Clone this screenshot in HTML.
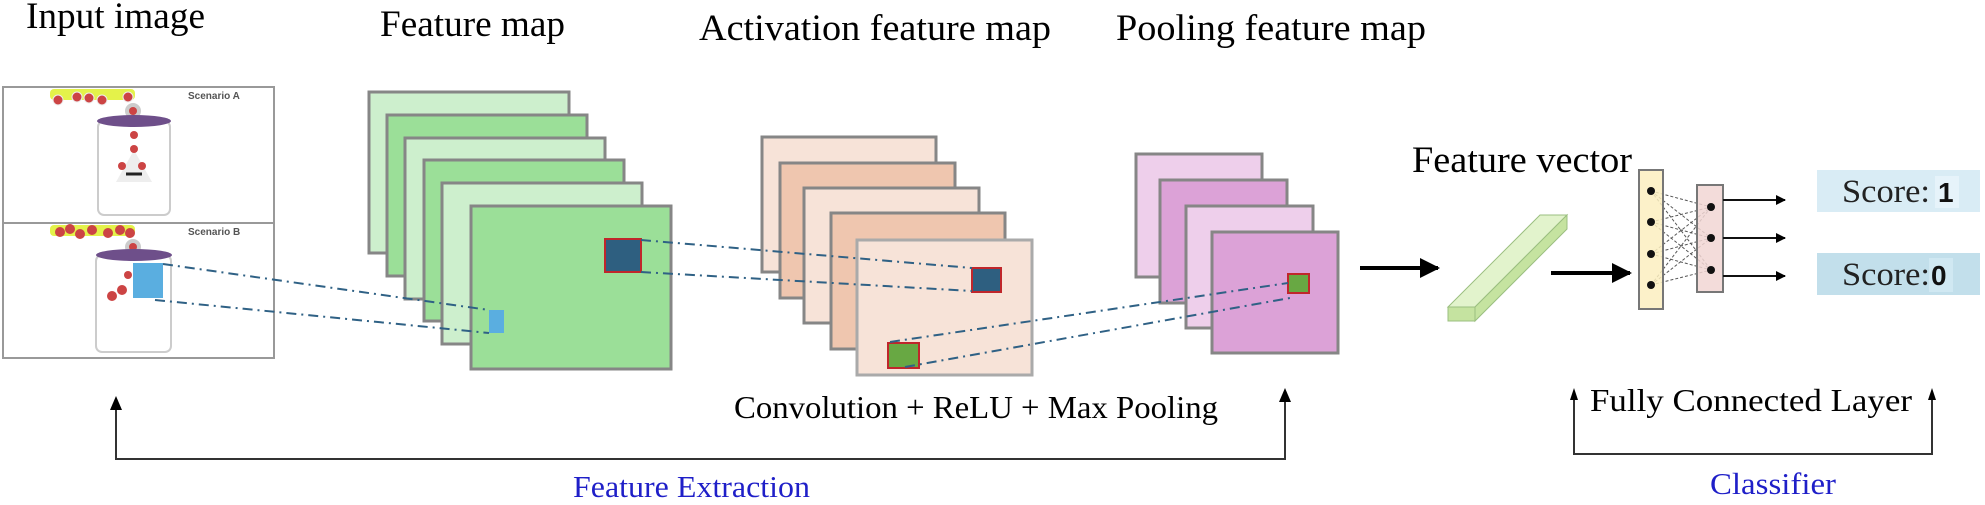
<!DOCTYPE html>
<html><head><meta charset="utf-8"><style>
html,body{margin:0;padding:0;background:#fff;}
svg{display:block;}
text{font-family:"Liberation Serif",serif;}
</style></head><body>
<svg width="1985" height="505" viewBox="0 0 1985 505" xmlns="http://www.w3.org/2000/svg">
<defs>
<marker id="ah" viewBox="0 0 10 10" refX="9" refY="5" markerWidth="5" markerHeight="5" orient="auto"><path d="M0,0 L10,5 L0,10 z" fill="#000"/></marker>
</defs>
<!-- titles -->
<text x="26" y="28" font-size="37" textLength="179" lengthAdjust="spacingAndGlyphs">Input image</text>
<text x="380" y="36" font-size="37" textLength="185" lengthAdjust="spacingAndGlyphs">Feature map</text>
<text x="699" y="40" font-size="37" textLength="352" lengthAdjust="spacingAndGlyphs">Activation feature map</text>
<text x="1116" y="40" font-size="37" textLength="310" lengthAdjust="spacingAndGlyphs">Pooling feature map</text>
<text x="1412" y="172" font-size="37" textLength="220" lengthAdjust="spacingAndGlyphs">Feature vector</text>

<!-- input image -->
<rect x="3" y="87" width="271" height="271" fill="#fff" stroke="#999" stroke-width="2"/>
<line x1="3" y1="223" x2="274" y2="223" stroke="#999" stroke-width="2"/>
<text x="188" y="99" font-size="10" font-weight="bold" fill="#555" style="font-family:'Liberation Sans',sans-serif">Scenario A</text>
<text x="188" y="235" font-size="10" font-weight="bold" fill="#555" style="font-family:'Liberation Sans',sans-serif">Scenario B</text>
<rect x="50" y="89" width="85" height="11" rx="4" fill="#e4f24a"/>
<g fill="#c44" stroke="#eee" stroke-width="1"><circle cx="58" cy="100" r="5"/><circle cx="77" cy="97" r="5"/><circle cx="89" cy="98" r="5"/><circle cx="102" cy="100" r="5"/><circle cx="128" cy="97" r="5"/></g>
<circle cx="133" cy="111" r="8" fill="#ccc"/><circle cx="133" cy="111" r="4" fill="#c44"/>
<rect x="98" y="121" width="72" height="94" rx="6" fill="#fff" stroke="#ccc" stroke-width="2"/>
<ellipse cx="134" cy="121" rx="37" ry="6" fill="#6e4f8a"/>
<polygon points="134,150 116,182 152,182" fill="#eee"/>
<g fill="#c44"><circle cx="134" cy="135" r="4"/><circle cx="134" cy="149" r="4"/><circle cx="122" cy="166" r="4"/><circle cx="142" cy="166" r="4"/></g>
<path d="M126,174 L142,174" stroke="#222" stroke-width="3"/>
<rect x="50" y="225" width="85" height="11" rx="4" fill="#e4f24a"/>
<g fill="#c44"><circle cx="60" cy="232" r="5"/><circle cx="70" cy="229" r="5"/><circle cx="80" cy="234" r="5"/><circle cx="92" cy="230" r="5"/><circle cx="108" cy="233" r="5"/><circle cx="120" cy="230" r="5"/><circle cx="130" cy="233" r="5"/></g>
<circle cx="133" cy="247" r="8" fill="#ccc"/><circle cx="133" cy="247" r="4" fill="#c44"/>
<rect x="96" y="255" width="75" height="97" rx="6" fill="#fff" stroke="#ccc" stroke-width="2"/>
<ellipse cx="134" cy="255" rx="38" ry="6" fill="#6e4f8a"/>
<g fill="#c44"><circle cx="128" cy="275" r="4"/><circle cx="122" cy="290" r="5"/><circle cx="112" cy="296" r="5"/></g>
<rect x="133" y="263" width="30" height="35" fill="#5aaee0"/>

<!-- green stack -->
<g stroke="#868686" stroke-width="3">
<rect x="369" y="92" width="200" height="161" fill="#cdefcd"/>
<rect x="387" y="115" width="200" height="161" fill="#9bdf98"/>
<rect x="405" y="138" width="200" height="161" fill="#cdefcd"/>
<rect x="424" y="160" width="200" height="161" fill="#9bdf98"/>
<rect x="442" y="183" width="200" height="161" fill="#cdefcd"/>
<rect x="471" y="206" width="200" height="163" fill="#9bdf98"/>
</g>
<rect x="605" y="239" width="36" height="33" fill="#2e5f80" stroke="#c0262b" stroke-width="2"/>
<rect x="489" y="310" width="15" height="23" fill="#5aaee0"/>

<!-- orange stack -->
<g stroke="#868686" stroke-width="3">
<rect x="762" y="137" width="174" height="135" fill="#f7e3d8"/>
<rect x="780" y="163" width="175" height="135" fill="#efc6af"/>
<rect x="804" y="188" width="175" height="135" fill="#f7e3d8"/>
<rect x="831" y="213" width="174" height="136" fill="#efc6af"/>
</g>
<rect x="857" y="240" width="175" height="135" fill="#f7e3d8" stroke="#aaa" stroke-width="3"/>
<rect x="972" y="268" width="29" height="24" fill="#2e5f80" stroke="#c0262b" stroke-width="2"/>
<rect x="888" y="343" width="31" height="25" fill="#68a843" stroke="#c0262b" stroke-width="2"/>

<!-- pink stack -->
<g stroke="#868686" stroke-width="3">
<rect x="1136" y="154" width="126" height="123" fill="#eecfeb"/>
<rect x="1160" y="180" width="127" height="123" fill="#dca2d7"/>
<rect x="1186" y="206" width="127" height="122" fill="#eecfeb"/>
<rect x="1212" y="232" width="126" height="121" fill="#dca2d7"/>
</g>
<rect x="1288" y="274" width="21" height="19" fill="#68a843" stroke="#c0262b" stroke-width="2"/>

<!-- dash-dot connectors -->
<g stroke="#2f6185" stroke-width="2" stroke-dasharray="10,5,2,5" fill="none">
<line x1="163" y1="264" x2="489" y2="310"/>
<line x1="155" y1="300" x2="489" y2="333"/>
<line x1="641" y1="240" x2="972" y2="268"/>
<line x1="641" y1="272" x2="972" y2="291"/>
<line x1="890" y1="342" x2="1288" y2="283"/>
<line x1="905" y1="367" x2="1290" y2="298"/>
</g>

<!-- arrows to vector -->
<line x1="1360" y1="268" x2="1438" y2="268" stroke="#000" stroke-width="4" marker-end="url(#ah)"/>
<polygon points="1448,307 1540,215 1567,215 1475,307" fill="#e2f3cc" stroke="#9bbf80" stroke-width="1"/>
<polygon points="1475,307 1567,215 1567,229 1475,321" fill="#c5e3a0" stroke="#9bbf80" stroke-width="1"/>
<rect x="1448" y="307" width="27" height="14" fill="#c5e3a0" stroke="#9bbf80" stroke-width="1"/>
<line x1="1551" y1="273" x2="1630" y2="273" stroke="#000" stroke-width="4" marker-end="url(#ah)"/>

<!-- FC layer -->
<g stroke="#555" stroke-width="1" stroke-dasharray="3,2">
<line x1="1651" y1="191" x2="1711" y2="207"/><line x1="1651" y1="191" x2="1711" y2="238"/><line x1="1651" y1="191" x2="1711" y2="270"/>
<line x1="1651" y1="222" x2="1711" y2="207"/><line x1="1651" y1="222" x2="1711" y2="238"/><line x1="1651" y1="222" x2="1711" y2="270"/>
<line x1="1651" y1="254" x2="1711" y2="207"/><line x1="1651" y1="254" x2="1711" y2="238"/><line x1="1651" y1="254" x2="1711" y2="270"/>
<line x1="1651" y1="285" x2="1711" y2="207"/><line x1="1651" y1="285" x2="1711" y2="238"/><line x1="1651" y1="285" x2="1711" y2="270"/>
</g>
<rect x="1639" y="170" width="24" height="139" fill="#fbeec0" fill-opacity="0.85" stroke="#777" stroke-width="2"/>
<rect x="1697" y="185" width="26" height="107" fill="#f1d6d3" fill-opacity="0.85" stroke="#777" stroke-width="2"/>
<g fill="#111"><circle cx="1651" cy="191" r="4"/><circle cx="1651" cy="222" r="4"/><circle cx="1651" cy="254" r="4"/><circle cx="1651" cy="285" r="4"/>
<circle cx="1711" cy="207" r="4"/><circle cx="1711" cy="238" r="4"/><circle cx="1711" cy="270" r="4"/></g>
<g stroke="#111" stroke-width="2" marker-end="url(#ah)">
<line x1="1723" y1="200" x2="1785" y2="200"/><line x1="1723" y1="238" x2="1785" y2="238"/><line x1="1723" y1="276" x2="1785" y2="276"/>
</g>
<rect x="1817" y="170" width="163" height="42" fill="#d9ecf5"/>
<rect x="1817" y="253" width="163" height="42" fill="#c2dfeb"/>
<text x="1842" y="202" font-size="33" fill="#222" textLength="88" lengthAdjust="spacingAndGlyphs">Score:</text>
<rect x="1935" y="176" width="24" height="32" fill="#e6f3fa"/>
<text x="1938" y="202" font-size="28" font-weight="bold" fill="#111" style="font-family:'Liberation Sans',sans-serif">1</text>
<text x="1842" y="285" font-size="33" fill="#222" textLength="88" lengthAdjust="spacingAndGlyphs">Score:</text>
<rect x="1929" y="258" width="24" height="34" fill="#d0e8f2"/>
<text x="1931" y="285" font-size="28" font-weight="bold" fill="#111" style="font-family:'Liberation Sans',sans-serif">0</text>

<!-- bottom brackets -->
<g stroke="#333" stroke-width="2" fill="none">
<polyline points="116,404 116,459 1285,459 1285,396"/>
<polyline points="1574,394 1574,454 1932,454 1932,394"/>
</g>
<g fill="#000">
<polygon points="110,410 122,410 116,396"/>
<polygon points="1279,402 1291,402 1285,388"/>
<polygon points="1570,400 1578,400 1574,388"/>
<polygon points="1928,400 1936,400 1932,388"/>
</g>
<text x="734" y="418" font-size="32" textLength="484" lengthAdjust="spacingAndGlyphs">Convolution + ReLU + Max Pooling</text>
<text x="1590" y="411" font-size="32" textLength="322" lengthAdjust="spacingAndGlyphs">Fully Connected Layer</text>
<text x="573" y="497" font-size="31" fill="#1f1fc8" textLength="237" lengthAdjust="spacingAndGlyphs">Feature Extraction</text>
<text x="1710" y="494" font-size="31" fill="#1f1fc8" textLength="126" lengthAdjust="spacingAndGlyphs">Classifier</text>
</svg>
</body></html>
